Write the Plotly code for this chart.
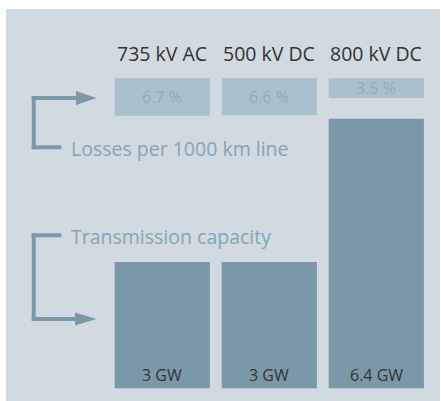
import plotly.graph_objects as go

# ---- data ----
categories = ["735 kV AC", "500 kV DC", "800 kV DC"]
capacity_gw = [3, 3, 6.4]
capacity_labels = ["3 GW", "3 GW", "6.4 GW"]
losses_pct = [6.7, 6.6, 3.5]
loss_labels = ["6.7 %", "6.6 %", "3.5 %"]

# ---- style ----
W, H = 441, 401
ML, MR, MT, MB = 6, 1, 9, 0
PANEL = "#d0dae0"
BAR = "#7b98a9"
LOSSBOX = "#aac0cc"
LOSSTXT = "#90acbc"
LABELTXT = "#87a4b4"
DARK = "#333333"
FONT = "Open Sans"

PW = W - ML - MR
PH = H - MT - MB


def px(x):
    return (x - ML) / PW


def py(y):
    return (H - MB - y) / PH


fig = go.Figure()
fig.add_trace(go.Bar(x=categories, y=capacity_gw, marker=dict(color=BAR, line=dict(width=0)),
                     width=0.89, hoverinfo="skip", yaxis="y"))
fig.add_trace(go.Bar(x=categories, y=losses_pct, base=0, marker=dict(color=LOSSBOX, line=dict(width=0)),
                     width=0.89, hoverinfo="skip", yaxis="y2"))

annotations = []
for c in categories:
    annotations.append(dict(x=c, xref="x", y=py(53), yref="paper", text=c, showarrow=False,
                            font=dict(family=FONT, size=19.5, color=DARK), yanchor="middle"))
for c, v, t in zip(categories, losses_pct, loss_labels):
    annotations.append(dict(x=c, xref="x", y=v / 2, yref="y2", text=t, showarrow=False,
                            font=dict(family=FONT, size=16, color=LOSSTXT), yanchor="middle"))
for c, t in zip(categories, capacity_labels):
    annotations.append(dict(x=c, xref="x", y=0, yref="y", text=t, showarrow=False, yshift=13,
                            font=dict(family=FONT, size=16, color=DARK), yanchor="middle"))
annotations.append(dict(x=px(69), xref="paper", y=py(149), yref="paper", text="Losses per 1000 km line",
                        showarrow=False, xanchor="left", yanchor="middle",
                        font=dict(family=FONT, size=19.5, color=LABELTXT)))
annotations.append(dict(x=px(69), xref="paper", y=py(236), yref="paper", text="Transmission capacity",
                        showarrow=False, xanchor="left", yanchor="middle",
                        font=dict(family=FONT, size=19.5, color=LABELTXT)))

shapes = []


def rect(x0, y0, x1, y1):
    shapes.append(dict(type="rect", xref="paper", yref="paper", x0=px(x0), x1=px(x1), y0=py(y1), y1=py(y0),
                       fillcolor=BAR, line=dict(width=0), layer="above"))


def tri(pts):
    path = "M " + " L ".join(f"{px(a)},{py(b)}" for a, b in pts) + " Z"
    shapes.append(dict(type="path", xref="paper", yref="paper", path=path, fillcolor=BAR,
                       line=dict(width=0), layer="above"))


# upper bracket
rect(31.7, 96, 35.7, 149.3)
rect(31.7, 96, 77, 100)
rect(31.7, 145.3, 61.3, 149.3)
tri([(76, 91), (96.5, 98), (76, 105)])
# lower bracket
rect(31.7, 233.3, 35.7, 321)
rect(31.7, 233.3, 61.3, 237.3)
rect(31.7, 317, 76, 321)
tri([(75, 312.5), (96.5, 319), (75, 325.5)])

# axis scaling
cap_scale = 42.13  # px per GW
cap_zero = 388.3
loss_scale = 5.595  # px per %
loss_zero = 78.3
x_unit = 107.0
x_center0 = 162.3

fig.update_layout(
    width=W, height=H,
    margin=dict(l=ML, r=MR, t=MT, b=MB),
    paper_bgcolor="white", plot_bgcolor=PANEL,
    showlegend=False, barmode="overlay",
    xaxis=dict(type="category", range=[(ML - x_center0) / x_unit, (W - MR - x_center0) / x_unit],
               visible=False, fixedrange=True),
    yaxis=dict(range=[-(H - MB - cap_zero) / cap_scale, (cap_zero - MT) / cap_scale],
               visible=False, fixedrange=True),
    yaxis2=dict(range=[(H - MB - loss_zero) / loss_scale, -(loss_zero - MT) / loss_scale],
                overlaying="y", visible=False, fixedrange=True),
    annotations=annotations, shapes=shapes,
)

fig.write_html("out.html", config={"displayModeBar": False})
